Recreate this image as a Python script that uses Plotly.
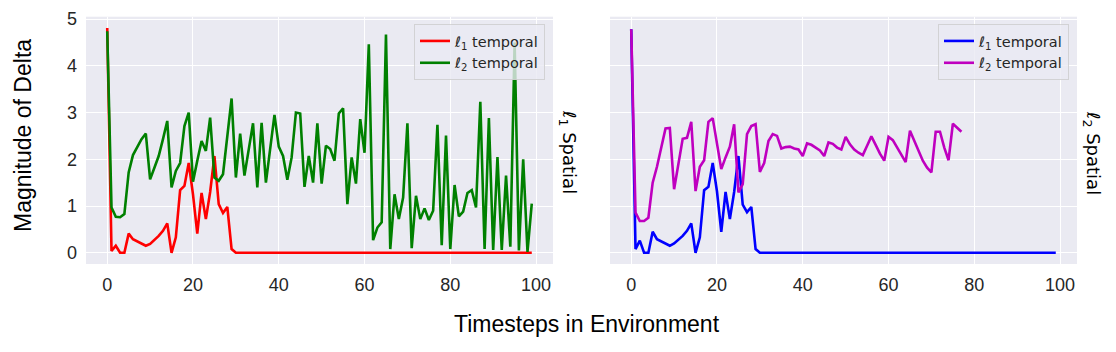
import plotly.graph_objects as go

# timesteps 0..99 on the x axis
timesteps = list(range(100))

# left panel: l1 spatial
l1_spatial_l1_temporal = [
    4.81, 0.04, 0.15, 0.00, 0.00, 0.41, 0.29, 0.24, 0.19, 0.15,
    0.19, 0.27, 0.36, 0.47, 0.63, 0.00, 0.33, 1.34, 1.43, 1.92,
    1.25, 0.41, 1.28, 0.72, 1.30, 2.07, 1.04, 0.85, 0.98, 0.08,
    0.00, 0.00, 0.00, 0.00, 0.00, 0.00, 0.00, 0.00, 0.00, 0.00,
    0.00, 0.00, 0.00, 0.00, 0.00, 0.00, 0.00, 0.00, 0.00, 0.00,
    0.00, 0.00, 0.00, 0.00, 0.00, 0.00, 0.00, 0.00, 0.00, 0.00,
    0.00, 0.00, 0.00, 0.00, 0.00, 0.00, 0.00, 0.00, 0.00, 0.00,
    0.00, 0.00, 0.00, 0.00, 0.00, 0.00, 0.00, 0.00, 0.00, 0.00,
    0.00, 0.00, 0.00, 0.00, 0.00, 0.00, 0.00, 0.00, 0.00, 0.00,
    0.00, 0.00, 0.00, 0.00, 0.00, 0.00, 0.00, 0.00, 0.00, 0.00,
]
l1_spatial_l2_temporal = [
    4.74, 0.97, 0.77, 0.76, 0.83, 1.72, 2.09, 2.25, 2.43, 2.55,
    1.57, 1.82, 2.07, 2.43, 2.82, 1.40, 1.75, 1.92, 2.71, 3.00,
    1.52, 1.97, 2.39, 2.18, 2.89, 1.61, 1.54, 1.68, 2.54, 3.30,
    1.61, 2.55, 1.65, 2.25, 2.77, 1.40, 2.78, 1.50, 2.25, 2.95,
    2.27, 2.07, 1.56, 2.04, 3.00, 2.98, 1.41, 2.07, 1.50, 2.77,
    1.48, 2.29, 2.22, 1.97, 2.98, 3.09, 1.04, 2.04, 1.48, 2.86,
    2.14, 4.46, 0.27, 0.54, 0.65, 4.67, 0.08, 1.25, 0.72, 1.18,
    2.77, 0.10, 1.22, 0.72, 0.95, 0.70, 0.90, 2.74, 0.16, 2.51,
    0.08, 1.45, 0.78, 0.88, 1.28, 1.34, 0.97, 3.23, 0.08, 2.88,
    0.06, 2.05, 0.06, 1.65, 0.13, 4.50, 0.05, 2.00, 0.02, 1.05,
]

# right panel: l2 spatial
l2_spatial_l1_temporal = [
    4.78, 0.08, 0.26, 0.00, 0.00, 0.45, 0.29, 0.24, 0.19, 0.15,
    0.20, 0.27, 0.36, 0.47, 0.63, 0.00, 0.33, 1.34, 1.41, 1.92,
    1.31, 0.45, 1.30, 0.72, 1.30, 2.07, 1.03, 0.87, 0.98, 0.08,
    0.00, 0.00, 0.00, 0.00, 0.00, 0.00, 0.00, 0.00, 0.00, 0.00,
    0.00, 0.00, 0.00, 0.00, 0.00, 0.00, 0.00, 0.00, 0.00, 0.00,
    0.00, 0.00, 0.00, 0.00, 0.00, 0.00, 0.00, 0.00, 0.00, 0.00,
    0.00, 0.00, 0.00, 0.00, 0.00, 0.00, 0.00, 0.00, 0.00, 0.00,
    0.00, 0.00, 0.00, 0.00, 0.00, 0.00, 0.00, 0.00, 0.00, 0.00,
    0.00, 0.00, 0.00, 0.00, 0.00, 0.00, 0.00, 0.00, 0.00, 0.00,
    0.00, 0.00, 0.00, 0.00, 0.00, 0.00, 0.00, 0.00, 0.00, 0.00,
]
# this run stops at timestep 77
l2_spatial_l2_temporal = [
    4.78, 0.86, 0.68, 0.68, 0.75, 1.50, 1.84, 2.29, 2.66, 2.67,
    1.36, 1.90, 2.44, 2.46, 2.80, 1.32, 1.84, 1.98, 2.80, 2.88,
    2.36, 1.79, 2.04, 2.27, 2.75, 1.29, 1.47, 2.54, 2.71, 2.75,
    1.73, 1.92, 2.39, 2.54, 2.50, 2.23, 2.26, 2.27, 2.23, 2.21,
    2.07, 2.34, 2.31, 2.25, 2.19, 2.07, 2.36, 2.33, 2.25, 2.21,
    2.48, 2.32, 2.21, 2.14, 2.09, 2.29, 2.49, 2.31, 2.12, 1.97,
    2.48, 2.41, 2.25, 2.10, 1.94, 2.61, 2.39, 2.18, 1.97, 1.82,
    1.72, 2.59, 2.59, 2.25, 1.98, 2.76, 2.68, 2.59,
]

y_ticks = [0, 1, 2, 3, 4, 5]
x_ticks = [0, 20, 40, 60, 80, 100]

W, H = 1116, 352
BG = "#EAEAF2"
TXT = "#262626"
SANS = "Liberation Sans, Arial, sans-serif"
DEJAVU = "DejaVu Sans, sans-serif"

fig = go.Figure()

def add_line(x, y, name, color, xa, ya, legend):
    fig.add_trace(go.Scatter(
        x=x, y=y, mode="lines", name=name,
        line=dict(color=color, width=2.6),
        xaxis=xa, yaxis=ya, legend=legend,
    ))

add_line(timesteps, l1_spatial_l1_temporal, "<i>ℓ</i><sub>1</sub> temporal", "#FF0000", "x", "y", "legend")
add_line(timesteps, l1_spatial_l2_temporal, "<i>ℓ</i><sub>2</sub> temporal", "#008000", "x", "y", "legend")
add_line(timesteps, l2_spatial_l1_temporal, "<i>ℓ</i><sub>1</sub> temporal", "#0000FF", "x2", "y2", "legend2")
add_line(timesteps[:len(l2_spatial_l2_temporal)], l2_spatial_l2_temporal,
         "<i>ℓ</i><sub>2</sub> temporal", "#BF00BF", "x2", "y2", "legend2")

# pixel helpers (page body adds ~7px margin, so pull everything back)
OFF = 7

def px_x(p):
    return (p - OFF) / W

def px_y(p):
    return 1 - (p - OFF) / H

y_dom = [px_y(263), px_y(15.7)]

axis_common = dict(
    showgrid=True, gridcolor="white", gridwidth=1.3,
    zeroline=False, showline=False, ticks="", automargin=False,
    tickfont=dict(family=SANS, size=18, color=TXT),
    ticklabelstandoff=8,
)

legend_common = dict(
    bgcolor="rgba(234,234,242,0.8)",
    bordercolor="rgba(204,204,204,0.8)", borderwidth=1,
    font=dict(family=DEJAVU, size=14.5, color=TXT),
    xanchor="right", yanchor="top",
    itemwidth=30, tracegroupgap=0,
)

fig.update_layout(
    width=W, height=H,
    margin=dict(l=0, r=0, t=0, b=0),
    paper_bgcolor="white", plot_bgcolor=BG,
    showlegend=True,
    xaxis=dict(domain=[px_x(85), px_x(552)], range=[-4.95, 103.95],
               tickvals=x_ticks, anchor="y", **axis_common),
    yaxis=dict(domain=y_dom, range=[-0.24, 5.05], tickvals=y_ticks,
               anchor="x", **axis_common),
    xaxis2=dict(domain=[px_x(609), px_x(1076)], range=[-4.95, 103.95],
                tickvals=x_ticks, anchor="y2", **axis_common),
    yaxis2=dict(domain=y_dom, range=[-0.24, 5.05], tickvals=y_ticks,
                anchor="x2", matches="y", showticklabels=False, **axis_common),
    legend=dict(x=px_x(544), y=px_y(23), **legend_common),
    legend2=dict(x=px_x(1068), y=px_y(23), **legend_common),
)

# shared axis titles and the per-panel side labels
fig.add_annotation(text="Timesteps in Environment", x=px_x(586), y=px_y(323),
                   xref="paper", yref="paper", showarrow=False,
                   xanchor="center", yanchor="middle",
                   font=dict(family=SANS, size=23, color="black"))
fig.add_annotation(text="Magnitude of Delta", x=px_x(22), y=px_y(135),
                   xref="paper", yref="paper", showarrow=False, textangle=-90,
                   xanchor="center", yanchor="middle",
                   font=dict(family=SANS, size=23, color="black"))
fig.add_annotation(text="<i>ℓ</i><sub>1</sub> Spatial", x=px_x(567), y=px_y(151),
                   xref="paper", yref="paper", showarrow=False, textangle=90,
                   xanchor="center", yanchor="middle",
                   font=dict(family=DEJAVU, size=18, color="black"))
fig.add_annotation(text="<i>ℓ</i><sub>2</sub> Spatial", x=px_x(1091), y=px_y(152),
                   xref="paper", yref="paper", showarrow=False, textangle=90,
                   xanchor="center", yanchor="middle",
                   font=dict(family=DEJAVU, size=18, color="black"))

fig.write_html("out.html")
